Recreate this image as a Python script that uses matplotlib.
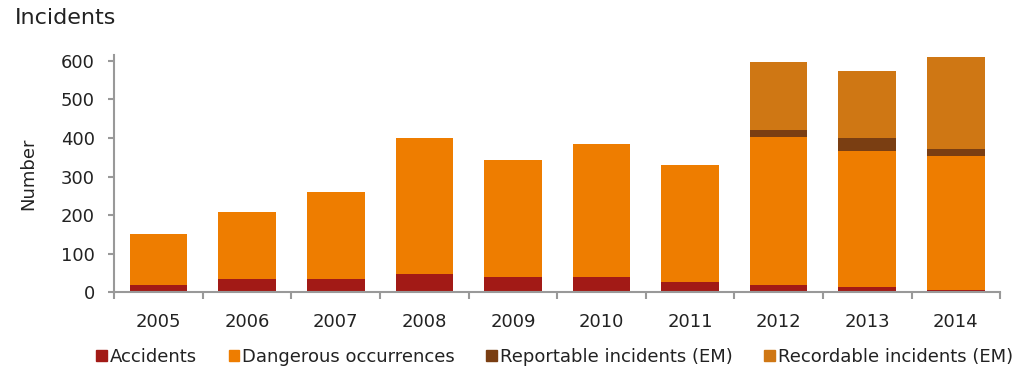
import numpy as np
import matplotlib.pyplot as plt
from matplotlib.patches import Patch

plt.rcParams['font.family'] = 'DejaVu Sans'

years = ['2005', '2006', '2007', '2008', '2009', '2010', '2011', '2012', '2013', '2014']
accidents = [19, 34, 34, 47, 40, 40, 27, 19, 13, 6]
dangerous = [133, 173, 227, 354, 303, 345, 303, 383, 354, 347]
reportable = [0, 0, 0, 0, 0, 0, 0, 19, 34, 19]
recordable = [0, 0, 0, 0, 0, 0, 0, 175, 173, 237]

series = [
    ('Accidents', accidents, '#A21A16'),
    ('Dangerous occurrences', dangerous, '#EE7D00'),
    ('Reportable incidents (EM)', reportable, '#7A3E12'),
    ('Recordable incidents (EM)', recordable, '#CF7714'),
]

fig = plt.figure(figsize=(10.29, 3.69), dpi=100)
ax = fig.add_axes([0.111, 0.208, 0.861, 0.643])

# stacked bars, one series on top of the previous
x = np.arange(len(years))
bottom = np.zeros(len(years))
for name, vals, col in series:
    ax.bar(x, vals, 0.65, bottom=bottom, color=col, label=name)
    bottom += np.array(vals)

ax.set_xlim(-0.5, len(years) - 0.5)
ax.set_ylim(0, 615)
ax.set_yticks(range(0, 601, 100))
ax.set_xticks(x)
ax.set_xticklabels(years)
# tick marks between the categories, labels centred under the bars
ax.set_xticks(np.arange(-0.5, len(years)), minor=True)
ax.tick_params(axis='x', which='major', length=0, pad=15, labelsize=13, colors='#222222')
ax.tick_params(axis='x', which='minor', length=5, width=1.5, color='#999999')
ax.tick_params(axis='y', length=4, width=1.5, color='#999999', labelsize=13, labelcolor='#222222', pad=10)

for s in ['top', 'right']:
    ax.spines[s].set_visible(False)
for s in ['left', 'bottom']:
    ax.spines[s].set_color('#999999')
    ax.spines[s].set_linewidth(1.5)

ax.set_ylabel('Number', fontsize=13, color='#222222', labelpad=17)
fig.text(0.014, 0.935, 'Incidents', fontsize=16, color='#222222', ha='left', va='baseline')

handles = [Patch(color=c) for _, _, c in series]
labels = [n for n, _, _ in series]
fig.legend(handles, labels, loc='lower center', bbox_to_anchor=(0.539, -0.035), ncol=4,
           frameon=False, fontsize=13, handlelength=0.6, handleheight=0.6,
           handletextpad=0.15, columnspacing=1.75, labelcolor='#222222')

fig.savefig('out.png', dpi=100)
